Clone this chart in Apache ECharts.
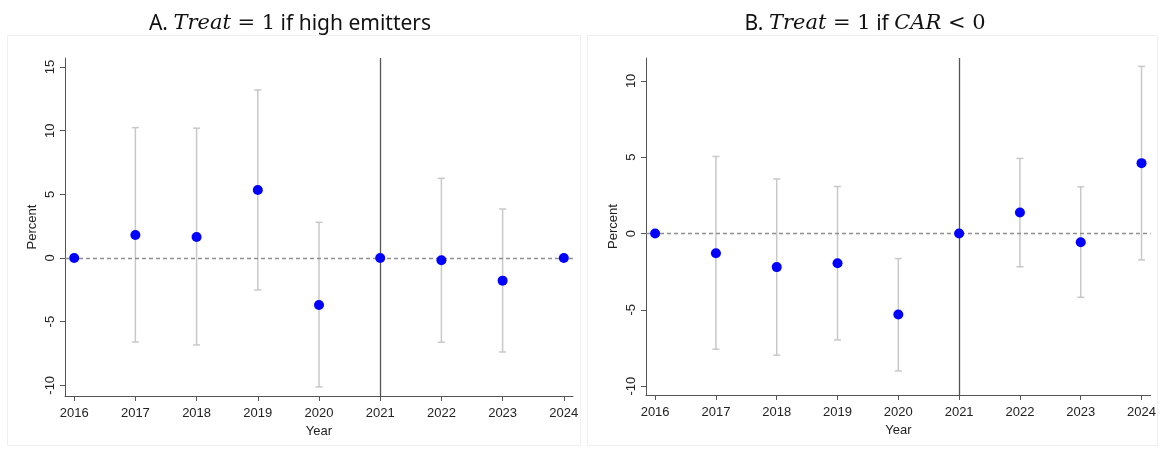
<!DOCTYPE html>
<html><head><meta charset="utf-8">
<script src="https://cdn.jsdelivr.net/npm/echarts@6/dist/echarts.min.js"></script>
<style>html,body{margin:0;padding:0;background:#fff}#c{width:1159px;height:449px}</style>
</head><body><div id="c"></div>
<script>
var years = [2016, 2017, 2018, 2019, 2020, 2021, 2022, 2023, 2024];
var aCoef = [0, 1.8, 1.65, 5.34, -3.69, 0, -0.18, -1.78, 0];
var aLow  = [null, -6.6, -6.83, -2.51, -10.13, null, -6.62, -7.38, null];
var aHigh = [null, 10.24, 10.2, 13.2, 2.8, null, 6.26, 3.85, null];
var bCoef = [0, -1.29, -2.2, -1.95, -5.31, 0, 1.38, -0.57, 4.61];
var bLow  = [null, -7.58, -7.97, -6.97, -9.0, null, -2.18, -4.18, -1.73];
var bHigh = [null, 5.05, 3.57, 3.08, -1.64, null, 4.92, 3.06, 10.95];
var aYTicks = [-10, -5, 0, 5, 10, 15];
var bYTicks = [-10, -5, 0, 5, 10];
var eventYear = 2021;

var chart = echarts.init(document.getElementById('c'), null, {renderer: 'canvas'});
var sans = 'Liberation Sans, Arial, sans-serif';
var axisCol = '#555555';

function ciData(lo, hi) {
  var out = [];
  for (var i = 0; i < years.length; i++) {
    if (lo[i] !== null) out.push([years[i], lo[i], hi[i]]);
  }
  return out;
}
function ptData(c) { return years.map(function (y, i) { return [y, c[i]]; }); }

function xAxisCfg(idx) {
  return {
    type: 'value', gridIndex: idx, min: 2015.85, max: 2024.15,
    splitLine: {show: false},
    axisLine: {onZero: false, lineStyle: {color: axisCol, width: 1}},
    axisTick: {length: 5, lineStyle: {color: axisCol}, customValues: years},
    axisLabel: {customValues: years, color: '#222', fontFamily: sans, fontSize: 13, margin: 11,
      formatter: function (v) { return String(v); }},
    name: 'Year', nameLocation: 'middle', nameGap: 25,
    nameTextStyle: {color: '#222', fontFamily: sans, fontSize: 13}
  };
}
function yAxisCfg(idx, mn, mx, ticks) {
  return {
    type: 'value', gridIndex: idx, min: mn, max: mx,
    splitLine: {show: false},
    axisLine: {show: true, onZero: false, lineStyle: {color: axisCol, width: 1}},
    axisTick: {show: true, length: 5, lineStyle: {color: axisCol}, customValues: ticks},
    axisLabel: {customValues: ticks, rotate: 90, color: '#222', fontFamily: sans, fontSize: 13, margin: 8},
    name: 'Percent', nameLocation: 'middle', nameRotate: 90, nameGap: 26,
    nameTextStyle: {color: '#222', fontFamily: sans, fontSize: 13}
  };
}
function errSeries(idx, lo, hi) {
  return {
    type: 'custom', xAxisIndex: idx, yAxisIndex: idx, z: 2,
    data: ciData(lo, hi),
    renderItem: function (params, api) {
      var x = api.value(0);
      var p1 = api.coord([x, api.value(1)]);
      var p2 = api.coord([x, api.value(2)]);
      var st = {stroke: '#c8c8c8', lineWidth: 1.5};
      return {type: 'group', children: [
        {type: 'line', shape: {x1: p1[0], y1: p1[1], x2: p2[0], y2: p2[1]}, style: st},
        {type: 'line', shape: {x1: p1[0] - 3.5, y1: p1[1], x2: p1[0] + 3.5, y2: p1[1]}, style: st},
        {type: 'line', shape: {x1: p2[0] - 3.5, y1: p2[1], x2: p2[0] + 3.5, y2: p2[1]}, style: st}
      ]};
    }
  };
}
function ptSeries(idx, c) {
  return {
    type: 'scatter', xAxisIndex: idx, yAxisIndex: idx, z: 5,
    data: ptData(c), symbolSize: 10,
    itemStyle: {color: '#0000ff', opacity: 1},
    emphasis: {disabled: true}
  };
}
function refLines(idx) {
  return {
    type: 'line', xAxisIndex: idx, yAxisIndex: idx, z: 3, data: [],
    markLine: {
      silent: true, symbol: 'none', animation: false,
      label: {show: false},
      emphasis: {disabled: true},
      data: [
        {yAxis: 0, lineStyle: {color: '#8f8f8f', type: [4, 3], width: 1.3}},
        {xAxis: eventYear, lineStyle: {color: '#555555', type: 'solid', width: 1.3}}
      ]
    }
  };
}
var titleRich = {
  s: {fontFamily: 'Noto Sans, Open Sans, sans-serif', fontSize: 21, fill: '#111', color: '#111'},
  i: {fontFamily: 'DejaVu Serif, Liberation Serif, serif', fontStyle: 'italic', fontSize: 21, fill: '#111', color: '#111'},
  m: {fontFamily: 'DejaVu Serif, Liberation Serif, serif', fontSize: 21, fill: '#111', color: '#111'}
};

chart.setOption({
  animation: false,
  backgroundColor: '#ffffff',
  grid: [
    {left: 65, top: 58, width: 508, height: 338},
    {left: 646, top: 58, width: 507, height: 337}
  ],
  xAxis: [xAxisCfg(0), xAxisCfg(1)],
  yAxis: [yAxisCfg(0, -10.84, 15.71, aYTicks), yAxisCfg(1, -10.58, 11.5, bYTicks)],
  graphic: [
    {type: 'rect', shape: {x: 7.5, y: 35.5, width: 573, height: 410}, style: {fill: 'none', stroke: '#f0f0f0', lineWidth: 1}, z: -1},
    {type: 'rect', shape: {x: 587.5, y: 35.5, width: 570, height: 410}, style: {fill: 'none', stroke: '#f0f0f0', lineWidth: 1}, z: -1},
    {type: 'text', x: 290, y: 24, style: {
      text: '{s|A. }{i|Treat}{m| = 1}{s| if high emitters}', rich: titleRich,
      align: 'center', verticalAlign: 'middle'}},
    {type: 'text', x: 865, y: 24, style: {
      text: '{s|B. }{i|Treat}{m| = 1}{s| if }{i|CAR}{m| < 0}', rich: titleRich,
      align: 'center', verticalAlign: 'middle'}}
  ],
  series: [
    errSeries(0, aLow, aHigh), refLines(0), ptSeries(0, aCoef),
    errSeries(1, bLow, bHigh), refLines(1), ptSeries(1, bCoef)
  ]
});
</script></body></html>
